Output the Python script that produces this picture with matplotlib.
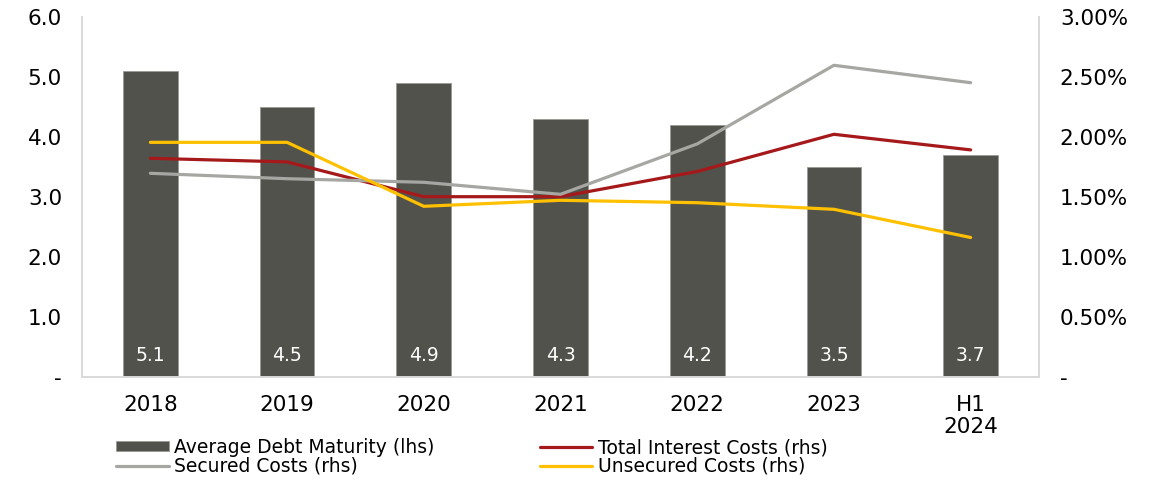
import matplotlib
matplotlib.use("Agg")
import matplotlib.pyplot as plt
from matplotlib.ticker import FixedLocator, FuncFormatter

# Debt maturity (years, lhs) and funding cost series (% , rhs)
periods = ["2018", "2019", "2020", "2021", "2022", "2023", "H1\n2024"]
avg_debt_maturity = [5.1, 4.5, 4.9, 4.3, 4.2, 3.5, 3.7]
total_interest = [1.82, 1.79, 1.50, 1.50, 1.71, 2.02, 1.89]
secured_costs = [1.695, 1.65, 1.62, 1.52, 1.94, 2.595, 2.45]
unsecured_costs = [1.953, 1.953, 1.42, 1.47, 1.45, 1.395, 1.16]

BAR = "#52524c"
RED = "#a6191b"
GREY = "#a6a6a2"
YELLOW = "#ffc000"
SPINE = "#d9d9d9"

plt.rcParams["font.family"] = ["DejaVu Sans"]

fig = plt.figure(figsize=(11.55, 4.8), dpi=100)
ax = fig.add_axes([82 / 1155, 1 - 376.7 / 480, (1039 - 82) / 1155, (376.7 - 16.7) / 480])
ax2 = ax.twinx()

x = list(range(len(periods)))
bars = ax.bar(x, avg_debt_maturity, width=0.4, color=BAR, edgecolor="#9a9a95",
              linewidth=0.6, label="Average Debt Maturity (lhs)", zorder=2)
for xi, v in zip(x, avg_debt_maturity):
    ax.annotate(f"{v:.1f}", (xi, 0), xytext=(0, 15), textcoords="offset points",
                ha="center", va="center", color="white", fontsize=13.5)

l_total, = ax2.plot(x, total_interest, color=RED, lw=2.3, label="Total Interest Costs (rhs)",
                    solid_joinstyle="round", solid_capstyle="round")
l_sec, = ax2.plot(x, secured_costs, color=GREY, lw=2.3, label="Secured Costs (rhs)",
                  solid_joinstyle="round", solid_capstyle="round")
l_unsec, = ax2.plot(x, unsecured_costs, color=YELLOW, lw=2.3, label="Unsecured Costs (rhs)",
                    solid_joinstyle="round", solid_capstyle="round")

ax.set_xlim(-0.5, len(periods) - 0.5)
ax.set_ylim(0, 6)
ax2.set_ylim(0, 3)

ax.yaxis.set_major_locator(FixedLocator([0, 1, 2, 3, 4, 5, 6]))
ax.yaxis.set_major_formatter(FuncFormatter(lambda v, p: "-" if v == 0 else f"{v:.1f}"))
ax2.yaxis.set_major_locator(FixedLocator([0, 0.5, 1, 1.5, 2, 2.5, 3]))
ax2.yaxis.set_major_formatter(FuncFormatter(lambda v, p: "-" if v == 0 else f"{v:.2f}%"))

ax.set_xticks(x)
ax.set_xticklabels(periods, linespacing=1.12)
ax.tick_params(axis="x", length=0, pad=13, labelsize=15.5)
ax.tick_params(axis="y", length=0, pad=14.4, labelsize=15.5)
ax2.tick_params(axis="y", length=0, pad=15, labelsize=15.5)
for lbl in ax.get_xticklabels():
    lbl.set_va("top")

for a in (ax, ax2):
    a.spines["top"].set_visible(False)
    for s in ("left", "right", "bottom"):
        a.spines[s].set_color(SPINE)
        a.spines[s].set_linewidth(1.2)

handles = [bars, l_sec, l_total, l_unsec]
labels = [h.get_label() for h in handles]
fig.legend(handles, labels, ncol=2, loc="upper left", bbox_to_anchor=(116 / 1155, 1 - 438 / 480),
           frameon=False, fontsize=13.5, handlelength=2.8, handleheight=0.45, handletextpad=0.3,
           labelspacing=0.0, columnspacing=5.6, borderaxespad=0, borderpad=0)

fig.savefig("out.png", dpi=100)
